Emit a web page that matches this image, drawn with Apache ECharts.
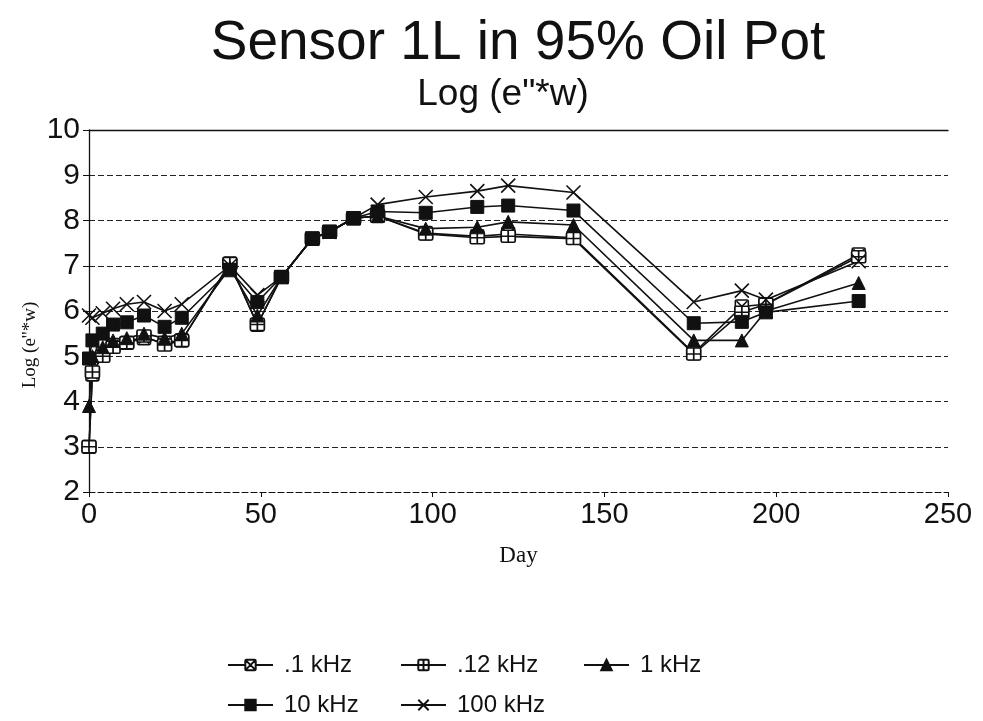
<!DOCTYPE html>
<html>
<head>
<meta charset="utf-8">
<script src="https://cdn.jsdelivr.net/npm/echarts@6/dist/echarts.min.js"></script>
<style>
  html, body { margin: 0; padding: 0; background: #fff; }
  #chart { width: 983px; height: 721px; }
</style>
</head>
<body>
<div id="chart"></div>
<script>
// Measurement days
const days = [0, 1, 4, 7, 11, 16, 22, 27, 41, 49, 56, 65, 70, 77, 84, 98, 113, 122, 141, 176, 190, 197, 224];

// Log(e''*w) per frequency
const f01k  = [3.0, 4.6, 5.05, 5.25, 5.3, 5.4, 5.3, 5.35, 7.05, 5.7, 6.75, 7.6, 7.75, 8.05, 8.1, 7.72, 7.65, 7.7, 7.62, 5.07, 6.1, 6.15, 7.25];
const f012k = [3.0, 4.65, 5.0, 5.2, 5.3, 5.45, 5.25, 5.35, 7.05, 5.7, 6.75, 7.6, 7.75, 8.05, 8.1, 7.7, 7.62, 7.65, 7.6, 5.05, 5.97, 6.15, 7.2];
const f1k   = [3.9, 5.0, 5.2, 5.35, 5.4, 5.5, 5.4, 5.5, 6.95, 5.9, 6.75, 7.6, 7.75, 8.05, 8.1, 7.82, 7.85, 7.97, 7.9, 5.35, 5.35, 6.0, 6.62];
const f10k  = [4.95, 5.35, 5.5, 5.7, 5.75, 5.9, 5.65, 5.85, 6.9, 6.2, 6.75, 7.6, 7.75, 8.05, 8.2, 8.17, 8.3, 8.33, 8.22, 5.73, 5.76, 5.97, 6.22];
const f100k = [5.9, 5.85, 5.95, 6.05, 6.15, 6.2, 6.0, 6.15, 7.0, 6.35, 6.75, 7.6, 7.75, 8.05, 8.35, 8.52, 8.65, 8.77, 8.62, 6.2, 6.45, 6.25, 7.1];

const seriesNames = ['.1 kHz', '.12 kHz', '1 kHz', '10 kHz', '100 kHz'];

// Marker shapes
const SYM_BOX_X = 'path://M1 0L9 0Q10 0 10 1L10 9Q10 10 9 10L1 10Q0 10 0 9L0 1Q0 0 1 0ZM1 1L9 9M9 1L1 9';
const SYM_BOX_BAR = 'path://M1 0L9 0Q10 0 10 1L10 7Q10 8 9 8L1 8Q0 8 0 7L0 1Q0 0 1 0ZM0 4L10 4M5 0L5 8';
const SYM_CROSS = 'path://M0 0L10 10M10 0L0 10';

const INK = '#111';
const SANS = 'Liberation Sans, Arial, sans-serif';
const SERIF = 'Liberation Serif, Times New Roman, serif';

function pairs(vals) {
  return days.map((d, i) => [d, vals[i]]);
}

function lineSeries(name, vals, symbol, size, hollow) {
  return {
    name: name,
    type: 'line',
    data: pairs(vals),
    symbol: symbol,
    symbolSize: size,
    showAllSymbol: true,
    lineStyle: { color: INK, width: 1.6 },
    itemStyle: hollow
      ? { color: '#fff', borderColor: INK, borderWidth: 1.6 }
      : { color: INK, borderColor: INK, borderWidth: 1 },
    emphasis: { disabled: true },
    animation: false
  };
}

function legendAt(name, left, top) {
  return {
    data: [name],
    left: left,
    top: top,
    itemWidth: 45,
    itemHeight: 13,
    selectedMode: false,
    textStyle: { fontFamily: SANS, fontSize: 24, color: INK, padding: [0, 0, 0, 6] }
  };
}

const chart = echarts.init(document.getElementById('chart'), null, { renderer: 'canvas' });

chart.setOption({
  backgroundColor: '#fff',
  animation: false,
  title: [
    {
      text: 'Sensor 1L in 95% Oil Pot',
      left: 513, top: 11, textAlign: 'center',
      textStyle: { fontFamily: SANS, fontSize: 55, fontWeight: 'normal', color: INK }
    },
    {
      text: 'Log (e"*w)',
      left: 498, top: 71, textAlign: 'center',
      textStyle: { fontFamily: SANS, fontSize: 37, fontWeight: 'normal', color: INK }
    }
  ],
  legend: [
    legendAt(seriesNames[0], 222, 648),
    legendAt(seriesNames[1], 395, 648),
    legendAt(seriesNames[2], 578, 648),
    legendAt(seriesNames[3], 222, 688),
    legendAt(seriesNames[4], 395, 688)
  ],
  grid: { left: 89, right: 35, top: 130, bottom: 229, show: false },
  xAxis: [
    {
      type: 'value', min: 0, max: 250, interval: 50,
      name: 'Day', nameLocation: 'middle', nameGap: 52,
      nameTextStyle: { fontFamily: SERIF, fontSize: 23, color: INK },
      axisLine: { show: true, lineStyle: { color: INK, width: 1.2, type: [6, 3] } },
      axisTick: { show: true, length: 5, lineStyle: { color: INK } },
      axisLabel: { fontFamily: SANS, fontSize: 29, color: INK, margin: 8 },
      splitLine: { show: false }
    },
    {
      type: 'value', min: 0, max: 250, position: 'top',
      axisLine: { show: true, onZero: false, lineStyle: { color: INK, width: 1.3 } },
      axisTick: { show: false }, axisLabel: { show: false }, splitLine: { show: false }
    }
  ],
  yAxis: {
    type: 'value', min: 2, max: 10, interval: 1,
    axisLine: { show: true, lineStyle: { color: INK, width: 1.3 } },
    axisTick: { show: true, length: 6, lineStyle: { color: INK } },
    axisLabel: { fontFamily: SANS, fontSize: 30, color: INK, margin: 9 },
    splitLine: { show: true, lineStyle: { color: '#222', width: 1.2, type: [6, 3] } }
  },
  graphic: [
    {
      type: 'text',
      x: 30, y: 345,
      rotation: Math.PI / 2,
      style: {
        text: "Log (e''*w)",
        font: '19px ' + SERIF,
        fill: INK,
        align: 'center',
        verticalAlign: 'middle'
      }
    }
  ],
  series: [
    lineSeries(seriesNames[0], f01k, SYM_BOX_X, 13, true),
    lineSeries(seriesNames[1], f012k, SYM_BOX_BAR, [14, 12], true),
    lineSeries(seriesNames[2], f1k, 'triangle', 13, false),
    lineSeries(seriesNames[3], f10k, 'rect', 13, false),
    lineSeries(seriesNames[4], f100k, SYM_CROSS, 14, true)
  ]
});
</script>
</body>
</html>
